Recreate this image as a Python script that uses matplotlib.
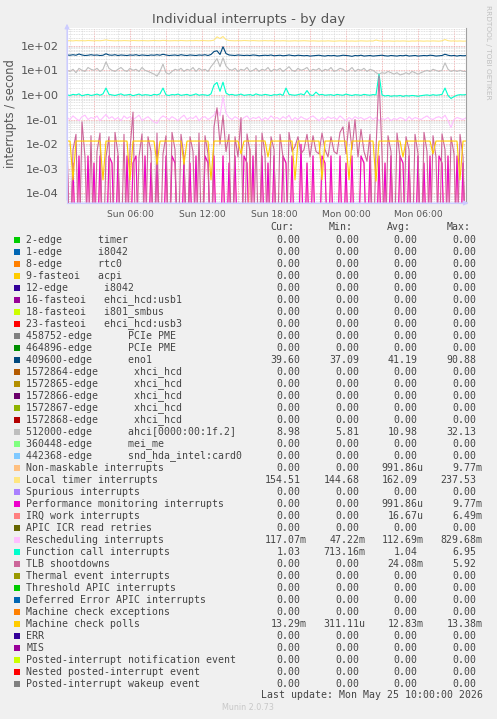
import matplotlib
matplotlib.use('Agg')
import matplotlib.pyplot as plt
import matplotlib.dates as mdates
from matplotlib.ticker import LogLocator, FuncFormatter, NullFormatter
from matplotlib.patches import Rectangle
import numpy as np
import pandas as pd

# 15 minute samples, Sun 00:45 .. Mon 10:00
times = pd.date_range('2026-05-24 00:45', periods=134, freq='15min')

local_timer = [
    158, 160, 157, 162, 159, 161, 158, 163, 160, 158,
    161, 159, 164, 172, 163, 160, 158, 161, 159, 162,
    160, 158, 163, 161, 159, 162, 160, 158, 161, 163,
    160, 159, 165, 162, 158, 160, 161, 159, 163, 160,
    158, 161, 160, 162, 159, 163, 161, 158, 160, 168,
    230, 195, 237.53, 175, 162, 160, 158, 161, 159, 163,
    160, 158, 162, 160, 157, 159, 161, 158, 160, 156,
    159, 157, 160, 158, 155, 157, 159, 156, 158, 160,
    157, 155, 158, 156, 154, 157, 155, 158, 156, 153,
    156, 158, 155, 157, 154, 156, 153, 155, 158, 156,
    154, 157, 155, 170, 158, 156, 154, 157, 155, 153,
    156, 154, 157, 155, 152, 156, 154, 158, 155, 153,
    156, 154, 157, 155, 153, 158, 178, 160, 155, 157,
    154, 156, 153, 154.51]

eno1 = [
    42, 41, 43, 41, 46, 42, 40, 41, 43, 41,
    42, 40, 41, 47, 42, 41, 43, 40, 42, 41,
    40, 42, 41, 43, 40, 42, 41, 40, 42, 41,
    43, 41, 45, 42, 40, 41, 42, 40, 43, 41,
    40, 42, 41, 40, 42, 41, 43, 40, 44, 58,
    62, 44, 90.88, 48, 42, 41, 40, 42, 41, 40,
    41, 40, 42, 41, 39, 40, 41, 40, 42, 39,
    40, 41, 39, 40, 42, 40, 39, 41, 40, 39,
    40, 38, 39, 40, 41, 39, 38, 40, 39, 40,
    38, 39, 41, 40, 39, 37.09, 40, 39, 41, 38,
    39, 40, 38, 39, 40, 41, 39, 38, 40, 39,
    38, 40, 39, 41, 38, 39, 40, 38, 39, 40,
    39, 41, 40, 38, 39, 40, 45, 41, 39, 40,
    38, 40, 39, 39.6]

ahci = [
    10, 9, 11, 8, 12, 10, 9, 13, 11, 10,
    12, 9, 11, 22, 12, 10, 9, 11, 13, 10,
    9, 12, 10, 11, 9, 13, 10, 9, 8, 7,
    5.81, 9, 18, 8, 7, 9, 11, 10, 12, 9,
    11, 10, 13, 9, 12, 10, 11, 9, 14, 20,
    30, 14, 32.13, 15, 11, 10, 12, 9, 11, 10,
    13, 9, 10, 12, 9, 11, 10, 13, 9, 11,
    10, 12, 9, 11, 14, 10, 9, 12, 10, 11,
    13, 9, 11, 10, 12, 9, 11, 10, 13, 9,
    10, 12, 11, 9, 10, 13, 9, 11, 10, 12,
    9, 11, 10, 8, 7, 8, 7.5, 9, 8, 7,
    8, 6.5, 7, 8, 7, 9, 8, 7, 8, 9,
    10, 9, 11, 10, 9, 10, 20, 11, 9, 10,
    9, 10, 9, 8.98]

function_call = [
    1.0, 0.95, 1.05, 1.0, 1.1, 0.92, 1.0, 1.05, 0.95, 1.0,
    1.08, 0.97, 1.1, 1.9, 1.05, 1.0, 0.95, 1.02, 1.1, 0.97,
    1.0, 1.05, 0.93, 1.0, 1.08, 0.96, 1.02, 1.0, 0.94, 1.05,
    1.0, 1.1, 1.9, 1.0, 0.95, 1.03, 1.0, 1.08, 0.96, 1.0,
    1.05, 0.95, 1.0, 1.1, 0.97, 1.02, 1.0, 0.95, 1.1, 2.5,
    3.2, 1.4, 3.3, 1.2, 1.0, 1.05, 0.97, 1.0, 1.08, 0.96,
    1.0, 1.03, 0.95, 1.1, 1.0, 0.97, 1.05, 1.0, 0.94, 1.02,
    1.0, 1.08, 0.96, 1.9, 1.05, 1.0, 0.97, 1.02, 1.1, 1.0,
    1.5, 1.0, 0.95, 1.3, 1.0, 1.05, 0.97, 1.0, 1.02, 0.95,
    1.05, 1.0, 0.97, 1.08, 1.0, 0.95, 1.02, 1.0, 0.96, 1.05,
    1.0, 0.97, 1.03, 1.0, 6.95, 1.0, 0.9, 0.95, 0.88, 0.92,
    0.9, 0.95, 0.87, 0.93, 0.9, 0.95, 0.92, 0.88, 0.93, 0.97,
    1.0, 0.95, 1.02, 0.97, 1.0, 1.05, 1.9, 0.95, 0.713, 0.85,
    0.97, 1.02, 1.0, 1.03]

rescheduling = [
    0.12, 0.10, 0.14, 0.11, 0.09, 0.13, 0.15, 0.10, 0.12, 0.11,
    0.14, 0.09, 0.12, 0.16, 0.11, 0.13, 0.10, 0.12, 0.09, 0.14,
    0.11, 0.13, 0.10, 0.12, 0.15, 0.09, 0.11, 0.13, 0.10, 0.08,
    0.07, 0.11, 0.14, 0.12, 0.10, 0.13, 0.11, 0.09, 0.12, 0.15,
    0.10, 0.12, 0.11, 0.14, 0.09, 0.12, 0.13, 0.10, 0.12, 0.15,
    0.25, 0.14, 0.83, 0.18, 0.12, 0.10, 0.13, 0.11, 0.09, 0.12,
    0.14, 0.10, 0.12, 0.11, 0.13, 0.09, 0.12, 0.10, 0.14, 0.11,
    0.12, 0.10, 0.13, 0.11, 0.15, 0.09, 0.12, 0.10, 0.13, 0.11,
    0.10, 0.12, 0.14, 0.11, 0.09, 0.12, 0.10, 0.13, 0.11, 0.12,
    0.10, 0.14, 0.11, 0.09, 0.12, 0.10, 0.13, 0.11, 0.12, 0.10,
    0.11, 0.13, 0.10, 0.12, 0.09, 0.11, 0.10, 0.12, 0.09, 0.11,
    0.10, 0.12, 0.11, 0.09, 0.13, 0.10, 0.12, 0.11, 0.10, 0.12,
    0.14, 0.11, 0.10, 0.12, 0.13, 0.11, 0.15, 0.09, 0.047, 0.10,
    0.12, 0.11, 0.10, 0.117]

machine_check_polls = [
    0.0133, 0.0133, 0.00035, 0.0133, 0.0133, 0.0134, 0.0133, 0.0133, 0.0133, 0.0133,
    0.0133, 0.0133, 0.00035, 0.0133, 0.0133, 0.0133, 0.0134, 0.0133, 0.0133, 0.0133,
    0.0133, 0.00035, 0.0133, 0.0133, 0.0133, 0.0133, 0.0133, 0.0134, 0.0133, 0.0133,
    0.0015, 0.0133, 0.0133, 0.0133, 0.0133, 0.0133, 0.0133, 0.0133, 0.0133, 0.0015,
    0.0133, 0.0133, 0.0134, 0.0133, 0.0133, 0.0133, 0.0133, 0.0133, 0.00035, 0.0133,
    0.0133, 0.0133, 0.0133, 0.0133, 0.0134, 0.0133, 0.0133, 0.0133, 0.004, 0.0133,
    0.0133, 0.0133, 0.0133, 0.0133, 0.0133, 0.0133, 0.0134, 0.003, 0.0133, 0.0133,
    0.0133, 0.0133, 0.0133, 0.0133, 0.0133, 0.0133, 0.00035, 0.0133, 0.0133, 0.0134,
    0.0133, 0.0133, 0.0133, 0.0133, 0.0133, 0.00035, 0.0133, 0.0133, 0.0133, 0.0133,
    0.0133, 0.0134, 0.0133, 0.0133, 0.00035, 0.0133, 0.0133, 0.0133, 0.0133, 0.0133,
    0.0133, 0.0133, 0.0133, 0.00031, 0.0133, 0.0133, 0.0134, 0.0133, 0.0133, 0.0133,
    0.0133, 0.0133, 0.003, 0.0133, 0.0133, 0.0133, 0.0133, 0.0133, 0.0134, 0.0133,
    0.0133, 0.0133, 0.004, 0.0133, 0.0133, 0.0133, 0.0133, 0.0133, 0.0133, 0.0133,
    0.0133, 0.00035, 0.0133, 0.01329]

perf_monitoring = [
    0.0033, 0, 0.0017, 0, 0.0033, 0, 0, 0.0033, 0, 0.0017,
    0, 0.0033, 0, 0, 0.0033, 0.0017, 0, 0.0033, 0, 0,
    0.0033, 0, 0.0017, 0.0033, 0, 0, 0.0033, 0, 0.0017, 0,
    0.0033, 0, 0, 0.0033, 0, 0.0033, 0.0017, 0, 0, 0.0033,
    0, 0.0017, 0, 0.0033, 0, 0, 0.0033, 0.0017, 0, 0.0033,
    0, 0, 0.0033, 0, 0.0017, 0, 0.0033, 0, 0, 0.0033,
    0.0017, 0, 0.0033, 0, 0, 0.0033, 0, 0.0017, 0, 0.0033,
    0, 0, 0.0033, 0.0017, 0, 0.0033, 0, 0, 0.0098, 0,
    0.0017, 0, 0.0033, 0, 0, 0.0033, 0.0017, 0, 0.0033, 0,
    0, 0.0033, 0, 0.0017, 0, 0.0033, 0, 0, 0.0033, 0.0017,
    0, 0.0033, 0, 0, 0.0033, 0, 0.0017, 0, 0.0033, 0,
    0, 0.0033, 0.0017, 0, 0.0033, 0, 0, 0.0033, 0, 0.0017,
    0, 0.0033, 0, 0, 0.0033, 0.0017, 0, 0.0033, 0, 0,
    0.0033, 0, 0.0017, 0]

non_maskable = perf_monitoring  # same counts as PMI

tlb_shootdowns = [
    0.02, 0, 0.006, 0.025, 0, 0.08, 0.003, 0, 0.022, 0,
    0.005, 0.028, 0, 0.003, 0.02, 0, 0.03, 0.004, 0, 0.025,
    0, 0.006, 0.2, 0, 0.003, 0.026, 0, 0.02, 0.005, 0,
    0.028, 0, 0.004, 0.022, 0, 0.03, 0.006, 0, 0.025, 0.003,
    0, 0.02, 0.005, 0, 0.028, 0, 0.022, 0.004, 0, 0.05,
    0.3, 0.01, 0.15, 0.005, 0.025, 0, 0.02, 0.003, 0.12, 0,
    0.026, 0.005, 0, 0.022, 0, 0.028, 0.004, 0, 0.02, 0.006,
    0, 0.025, 0.003, 0, 0.03, 0.005, 0.008, 0.02, 0.004, 0.006,
    0.025, 0.003, 0.022, 0.005, 0.004, 0.028, 0.006, 0.003, 0.02, 0.005,
    0.004, 0.03, 0.05, 0.004, 0.08, 0.006, 0.1, 0.003, 0.04, 0.005,
    0.002, 0.025, 0, 0.006, 5.92, 0.004, 0, 0.022, 0.005, 0,
    0.028, 0.003, 0, 0.02, 0.006, 0, 0.025, 0.004, 0, 0.03,
    0.005, 0, 0.022, 0.003, 0, 0.026, 0.006, 0, 0.02, 0.004,
    0, 0.025, 0.003, 0]

irq_work = [0] * 61 + [0.00649] + [0] * 72

names = [
    "2-edge      timer", "1-edge      i8042", "8-edge      rtc0",
    "9-fasteoi   acpi", "12-edge      i8042", "16-fasteoi   ehci_hcd:usb1",
    "18-fasteoi   i801_smbus", "23-fasteoi   ehci_hcd:usb3",
    "458752-edge      PCIe PME", "464896-edge      PCIe PME",
    "409600-edge      eno1", "1572864-edge      xhci_hcd",
    "1572865-edge      xhci_hcd", "1572866-edge      xhci_hcd",
    "1572867-edge      xhci_hcd", "1572868-edge      xhci_hcd",
    "512000-edge      ahci[0000:00:1f.2]", "360448-edge      mei_me",
    "442368-edge      snd_hda_intel:card0", "Non-maskable interrupts",
    "Local timer interrupts", "Spurious interrupts",
    "Performance monitoring interrupts", "IRQ work interrupts",
    "APIC ICR read retries", "Rescheduling interrupts",
    "Function call interrupts", "TLB shootdowns", "Thermal event interrupts",
    "Threshold APIC interrupts", "Deferred Error APIC interrupts",
    "Machine check exceptions", "Machine check polls", "ERR", "MIS",
    "Posted-interrupt notification event", "Nested posted-interrupt event",
    "Posted-interrupt wakeup event"]

colors = [
    "#00CC00", "#0066B3", "#FF8000", "#FFCC00", "#330099", "#990099",
    "#CCFF00", "#FF0000", "#808080", "#008F00", "#00487D", "#B35A00",
    "#B38F00", "#6B006B", "#8FB300", "#B30000", "#BEBEBE", "#80FF80",
    "#80C9FF", "#FFC080", "#FFE680", "#AA80FF", "#EE00CC", "#FF8080",
    "#666600", "#FFBFFF", "#00FFCC", "#CC6699", "#999900", "#00CC00",
    "#0066B3", "#FF8000", "#FFCC00", "#330099", "#990099", "#CCFF00",
    "#FF0000", "#808080"]

z = "0.00"
cur_vals = [z] * 10 + ["39.60"] + [z] * 5 + ["8.98", z, z, z, "154.51", z, z, z, z,
            "117.07m", "1.03", z, z, z, z, z, "13.29m", z, z, z, z, z]
min_vals = [z] * 10 + ["37.09"] + [z] * 5 + ["5.81", z, z, z, "144.68", z, z, z, z,
            "47.22m", "713.16m", z, z, z, z, z, "311.11u", z, z, z, z, z]
avg_vals = [z] * 10 + ["41.19"] + [z] * 5 + ["10.98", z, z, "991.86u", "162.09", z,
            "991.86u", "16.67u", z, "112.69m", "1.04", "24.08m", z, z, z, z,
            "12.83m", z, z, z, z, z]
max_vals = [z] * 10 + ["90.88"] + [z] * 5 + ["32.13", z, z, "9.77m", "237.53", z,
            "9.77m", "6.49m", z, "829.68m", "6.95", "5.92", z, z, z, z,
            "13.38m", z, z, z, z, z]

# series that have non-zero values, in munin draw order
drawn = {
    "409600-edge      eno1": eno1,
    "512000-edge      ahci[0000:00:1f.2]": ahci,
    "Non-maskable interrupts": non_maskable,
    "Local timer interrupts": local_timer,
    "Performance monitoring interrupts": perf_monitoring,
    "IRQ work interrupts": irq_work,
    "Rescheduling interrupts": rescheduling,
    "Function call interrupts": function_call,
    "TLB shootdowns": tlb_shootdowns,
    "Machine check polls": machine_check_polls,
}

W, H = 497, 719
fig = plt.figure(figsize=(W / 100, H / 100), dpi=100, facecolor='#F0F0F0')
ax = fig.add_axes([67 / W, 1 - 203 / H, 399 / W, 175 / H], facecolor='white')

for name, color in zip(names, colors):
    if name in drawn:
        # zero counts drop to the floor of the log axis like rrdtool does
        vals = np.maximum(np.asarray(drawn[name], dtype=float), 1e-7)
        ax.plot(times, vals, color=color, lw=0.8)

ax.set_yscale('log')
ax.set_ylim(4.03e-5, 525)
ax.set_xlim(times[0], times[-1])

ax.yaxis.set_major_locator(LogLocator(base=10, numticks=20))
ax.yaxis.set_minor_locator(LogLocator(base=10, subs=range(2, 10), numticks=20))
ax.yaxis.set_major_formatter(FuncFormatter(lambda v, p: f'{v:.0e}'))
ax.yaxis.set_minor_formatter(NullFormatter())

ax.xaxis.set_major_locator(mdates.HourLocator(byhour=range(0, 24, 3)))
ax.xaxis.set_minor_locator(mdates.HourLocator())
ax.xaxis.set_major_formatter(FuncFormatter(
    lambda v, p: mdates.num2date(v).strftime('%a %H:%M') if mdates.num2date(v).hour % 6 == 0 else ''))

ax.grid(which='minor', color='#D8D8D8', linestyle=(0, (1, 1)), lw=0.6)
ax.grid(which='major', color='#F0A0A0', linestyle=(0, (1, 1)), lw=0.6)
ax.set_axisbelow(True)

ax.tick_params(which='both', length=0, colors='#555555', labelsize=6.6, pad=5)
ax.tick_params(axis='y', labelsize=8.2, pad=6)

ax.spines['top'].set_visible(False)
ax.spines['right'].set_color('#A0A0A0')
ax.spines['left'].set_color('#CCCCFF')
ax.spines['bottom'].set_color('#CCCCFF')

ax.annotate('', xy=(0, 1.04), xytext=(0, 0), xycoords='axes fraction',
            arrowprops=dict(arrowstyle='-|>', color='#CCCCFF', lw=0.8,
                            mutation_scale=7), annotation_clip=False)
ax.annotate('', xy=(1.0135, 0), xytext=(0, 0), xycoords='axes fraction',
            arrowprops=dict(arrowstyle='-|>', color='#CCCCFF', lw=0.8,
                            mutation_scale=7), annotation_clip=False)

# overlay in pixel coordinates for texts and legend
ov = fig.add_axes([0, 0, 1, 1], facecolor='none')
ov.set_xlim(0, W)
ov.set_ylim(H, 0)
ov.axis('off')

ov.text(249, 19, 'Individual interrupts - by day', ha='center', va='center',
        fontsize=9.5, color='#555555')
ov.text(11, 114, 'interrupts / second', rotation=90, ha='center', va='center',
        fontsize=8.3, color='#555555')
ov.text(488, 52, 'RRDTOOL / TOBI OETIKER', rotation=270, ha='center', va='center',
        fontsize=5.3, color='#C0C0C0')

mono = dict(family='DejaVu Sans Mono', fontsize=7.15, color='#444444', va='center')
col_end = [300.7, 359.3, 417.7, 476.7]
for x, head in zip(col_end, ['Cur:', 'Min:', 'Avg:', 'Max:']):
    ov.text(x - 6.5, 227.3, head, ha='right', **mono)


def put_value(x, y, s):
    # unit suffix sits in the column after the number
    if s[-1] in 'mu':
        ov.text(x + 6, y, s, ha='right', **mono)
    else:
        ov.text(x, y, s, ha='right', **mono)


for i, name in enumerate(names):
    y = 239.7 + 12 * i
    ov.add_patch(Rectangle((14, y - 3.2), 6, 6, color=colors[i], lw=0))
    ov.text(26.3, y, name, ha='left', **mono)
    for x, vals in zip(col_end, [cur_vals, min_vals, avg_vals, max_vals]):
        put_value(x, y, vals[i])

ov.text(482.7, 695.3, 'Last update: Mon May 25 10:00:00 2026', ha='right', **mono)
ov.text(248, 707.7, 'Munin 2.0.73', ha='center', va='center', fontsize=5.8,
        color='#C8C8C8')

fig.savefig('out.png', dpi=100, facecolor=fig.get_facecolor())
